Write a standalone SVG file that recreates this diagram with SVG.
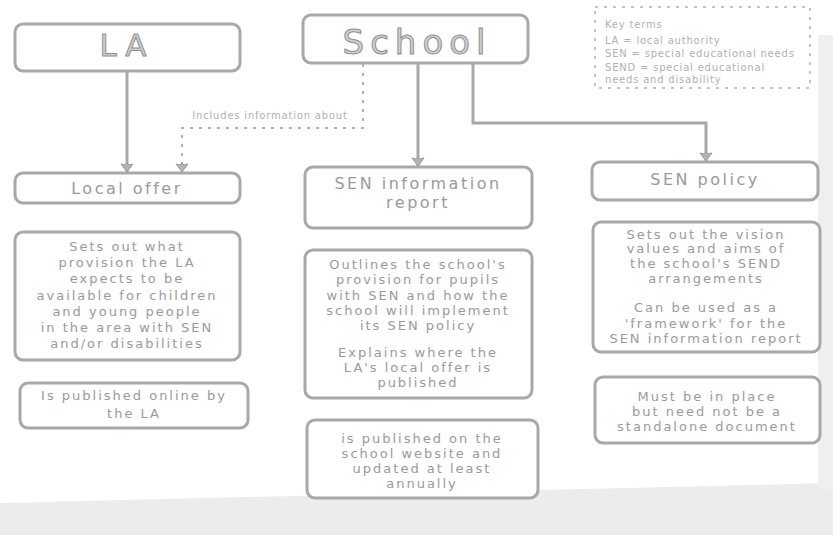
<svg xmlns="http://www.w3.org/2000/svg" width="833" height="535" viewBox="0 0 833 535">
  <style>
    .box { fill: #ffffff; stroke: #a8a8a8; stroke-width: 3; }
    .title { font-family: "DejaVu Sans", sans-serif; fill: #cfcfcf; stroke: #8f8f8f; stroke-width: 1; text-anchor: middle; }
    .head { font-family: "DejaVu Sans", sans-serif; font-size: 16px; fill: #9a9a9a; text-anchor: middle; letter-spacing: 2.5px; }
    .body { font-family: "DejaVu Sans", sans-serif; font-size: 13px; fill: #9a9a9a; text-anchor: middle; letter-spacing: 2px; }
    .key { font-family: "DejaVu Sans", sans-serif; font-size: 10px; fill: #b0b0b0; letter-spacing: 0.8px; }
    .conn { fill: none; stroke: #a8a8a8; stroke-width: 3; }
    .dash { fill: none; stroke: #b0b0b0; stroke-width: 2; stroke-dasharray: 3 6; }
  </style>
  <defs>
    <marker id="arrow" viewBox="0 0 14 14" refX="13" refY="7" markerWidth="14" markerHeight="14" markerUnits="userSpaceOnUse" orient="auto">
      <path d="M5,1 L13,7 L5,13 L6,9 L4,7 L6,5 Z" fill="#b4b4b4" stroke="#999999" stroke-width="1"/>
    </marker>
  </defs>
  <rect width="833" height="535" fill="#ffffff"/>
  <g id="page-shading">
    <polygon points="0,503 833,483 833,535 0,535" fill="#ececec"/>
    <rect x="818" y="35" width="15" height="455" fill="#efefef"/>
  </g>

  <g id="connectors">
    <line class="conn" x1="127" y1="72" x2="127" y2="172" marker-end="url(#arrow)"/>
    <line class="conn" x1="418" y1="63" x2="418" y2="166" marker-end="url(#arrow)"/>
    <path class="conn" d="M473,63 V123 H706 V161" marker-end="url(#arrow)"/>
    <path class="dash" d="M363,64 V128 H182 V172" marker-end="url(#arrow)"/>
    <text class="key" x="270" y="119" text-anchor="middle">Includes information about</text>
  </g>

  <g id="la">
    <rect class="box" x="15" y="24" width="225" height="47" rx="8"/>
    <text class="title" x="127" y="56" font-size="31" letter-spacing="8">LA</text>
  </g>
  <g id="school">
    <rect class="box" x="303" y="15" width="225" height="48" rx="8"/>
    <text class="title" x="417" y="54" font-size="34" letter-spacing="6">School</text>
  </g>
  <g id="key-terms">
    <rect x="595" y="7" width="215" height="81" fill="#ffffff" stroke="#b0b0b0" stroke-width="1.5" stroke-dasharray="3 6"/>
    <text class="key" x="605" y="28" font-size="12" letter-spacing="2">Key terms</text>
    <text class="key" x="605" y="44">LA = local authority</text>
    <text class="key" x="605" y="57">SEN = special educational needs</text>
    <text class="key" x="605" y="71">SEND = special educational</text>
    <text class="key" x="605" y="83">needs and disability</text>
  </g>

  <g id="local-offer">
    <rect class="box" x="15" y="173" width="225" height="30" rx="8"/>
    <text class="head" x="127" y="194">Local offer</text>
  </g>
  <g id="local-offer-desc">
    <rect class="box" x="15" y="232" width="225" height="128" rx="8"/>
    <text class="body" x="127" y="251">Sets out what</text>
    <text class="body" x="127" y="267">provision the LA</text>
    <text class="body" x="127" y="283">expects to be</text>
    <text class="body" x="127" y="300">available for children</text>
    <text class="body" x="127" y="316">and young people</text>
    <text class="body" x="127" y="332">in the area with SEN</text>
    <text class="body" x="127" y="348">and/or disabilities</text>
  </g>
  <g id="local-offer-published">
    <rect class="box" x="20" y="383" width="228" height="45" rx="8"/>
    <text class="body" x="134" y="400">Is published online by</text>
    <text class="body" x="134" y="418">the LA</text>
  </g>

  <g id="sen-info-report">
    <rect class="box" x="305" y="167" width="227" height="61" rx="8"/>
    <text class="head" x="418" y="189" letter-spacing="3.5">SEN information</text>
    <text class="head" x="418" y="208" letter-spacing="3">report</text>
  </g>
  <g id="sen-info-desc">
    <rect class="box" x="305" y="250" width="227" height="148" rx="8"/>
    <text class="body" x="418" y="269">Outlines the school's</text>
    <text class="body" x="418" y="284">provision for pupils</text>
    <text class="body" x="418" y="300">with SEN and how the</text>
    <text class="body" x="418" y="315">school will implement</text>
    <text class="body" x="418" y="330">its SEN policy</text>
    <text class="body" x="418" y="357">Explains where the</text>
    <text class="body" x="418" y="372">LA's local offer is</text>
    <text class="body" x="418" y="387">published</text>
  </g>
  <g id="sen-info-published">
    <rect class="box" x="307" y="420" width="231" height="78" rx="8"/>
    <text class="body" x="422" y="443">is published on the</text>
    <text class="body" x="422" y="458">school website and</text>
    <text class="body" x="422" y="473">updated at least</text>
    <text class="body" x="422" y="488">annually</text>
  </g>

  <g id="sen-policy">
    <rect class="box" x="592" y="162" width="226" height="38" rx="8"/>
    <text class="head" x="705" y="185" letter-spacing="3">SEN policy</text>
  </g>
  <g id="sen-policy-desc">
    <rect class="box" x="593" y="222" width="227" height="130" rx="8"/>
    <text class="body" x="706" y="239">Sets out the vision</text>
    <text class="body" x="706" y="253">values and aims of</text>
    <text class="body" x="706" y="268">the school's SEND</text>
    <text class="body" x="706" y="283">arrangements</text>
    <text class="body" x="706" y="312">Can be used as a</text>
    <text class="body" x="706" y="328">'framework' for the</text>
    <text class="body" x="706" y="343">SEN information report</text>
  </g>
  <g id="sen-policy-place">
    <rect class="box" x="595" y="377" width="225" height="66" rx="8"/>
    <text class="body" x="707" y="401">Must be in place</text>
    <text class="body" x="707" y="416">but need not be a</text>
    <text class="body" x="707" y="431">standalone document</text>
  </g>
</svg>
